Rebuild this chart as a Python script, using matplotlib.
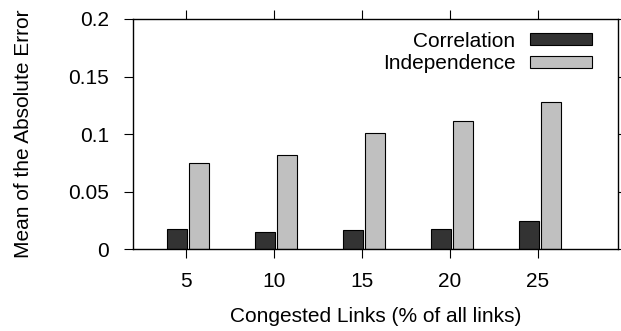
import matplotlib
matplotlib.use("Agg")
import matplotlib.pyplot as plt
import numpy as np

plt.rcParams['font.family'] = ['Liberation Sans', 'DejaVu Sans']

links = ['5', '10', '15', '20', '25']
correlation = [0.0175, 0.0148, 0.0166, 0.0177, 0.0243]
independence = [0.0748, 0.0823, 0.1009, 0.1116, 0.1275]

x = np.arange(len(links))
bar_w = 0.227

fig = plt.figure(figsize=(6.21, 3.31), dpi=100)
ax = fig.add_axes([0.2147, 0.2468, 0.7805, 0.6958])

ax.bar(x - 0.1, correlation, bar_w, color='#333333', edgecolor='black',
       linewidth=0.8, label='Correlation')
ax.bar(x + 0.15, independence, bar_w, color='#c0c0c0', edgecolor='black',
       linewidth=0.8, label='Independence')

ax.set_xlim(-0.6, 4.91)
ax.set_ylim(0, 0.2)
ax.set_xticks(x)
ax.set_xticklabels(links)
ax.set_yticks([0, 0.05, 0.1, 0.15, 0.2])
ax.set_yticklabels(['0', '0.05', '0.1', '0.15', '0.2'])

for s in ax.spines.values():
    s.set_linewidth(1.0)
ax.tick_params(direction='out', length=6.5, width=0.8, top=True, right=True,
               labelsize=15)
ax.tick_params(axis='y', pad=11)
ax.tick_params(axis='x', pad=10)

ax.set_xlabel('Congested Links (% of all links)', fontsize=15, labelpad=11)
ax.set_ylabel('Mean of the Absolute Error', fontsize=15, labelpad=25)

ax.legend(loc='upper right', bbox_to_anchor=(0.9464, 0.945), frameon=False,
          markerfirst=False, fontsize=15, handlelength=3.0, handleheight=0.53,
          handletextpad=0.67, labelspacing=0.17, borderpad=0, borderaxespad=0)

fig.savefig('out.png', dpi=100)
